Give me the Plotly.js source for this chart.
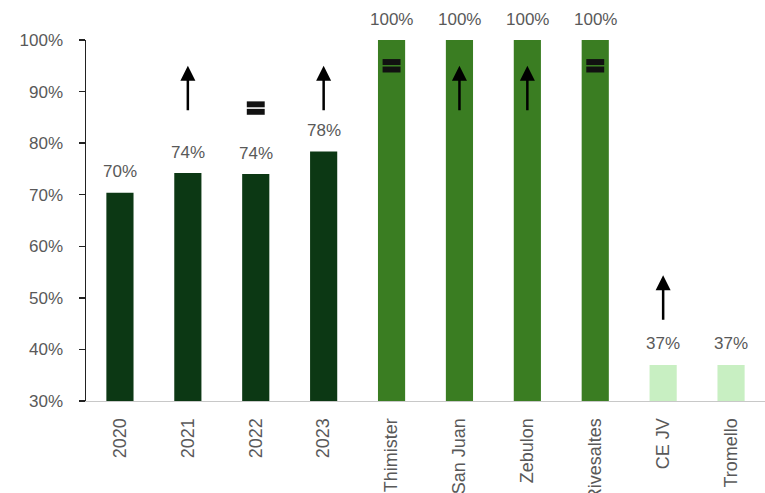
<!DOCTYPE html>
<html><head><meta charset="utf-8">
<script src="https://cdn.plot.ly/plotly-3.0.1.min.js"></script>
<style>html,body{margin:0;padding:0;background:#fff}#chart{width:765px;height:493px}</style>
</head><body><div id="chart"></div>
<script>
// Data
const categories = ['2020','2021','2022','2023','Thimister','San Juan','Zebulon','Rivesaltes','CE JV','Tromello'];
const values = [70.4, 74.2, 74.0, 78.4, 100, 100, 100, 100, 37, 37];
const groups = ['year','year','year','year','site','site','site','site','new','new'];
const trend = ['', 'up', 'equal', 'up', 'equal', 'up', 'up', 'equal', 'up', ''];

// Styles
const groupColors = {year:'#0c3814', site:'#3a7d22', new:'#c8efc2'};
const textColor = '#595959';
const font = 'Liberation Sans, Arial, sans-serif';

const annotations = [];
const shapes = [];
categories.forEach((c, i) => {
  const v = values[i];
  annotations.push({
    x: i, y: v, xref:'x', yref:'y', text: Math.round(v) + '%', showarrow:false,
    yanchor:'middle', yshift: 21, font:{family:font, size:17, color:textColor}
  });
  const base = v < 50 ? v + 17.4 : 95;
  if (trend[i] === 'up') {
    annotations.push({
      x: i, y: base, xref:'x', yref:'y', ax: 0, ay: 46, text:'', showarrow:true,
      arrowhead: 2, arrowsize: 1.2, arrowwidth: 2.5, arrowcolor:'#000'
    });
  } else if (trend[i] === 'equal') {
    const cy = v >= 95 ? 95 : 86.8;
    const hw = 0.132;
    shapes.push({type:'rect', xref:'x', yref:'y', x0:i-hw, x1:i+hw, y0:cy+0.15, y1:cy+1.3, fillcolor:'#111', line:{width:0}});
    shapes.push({type:'rect', xref:'x', yref:'y', x0:i-hw, x1:i+hw, y0:cy-1.3, y1:cy-0.15, fillcolor:'#111', line:{width:0}});
  }
});

const trace = {
  type:'bar', x: categories, y: values, width: 0.4,
  marker:{color: groups.map(g => groupColors[g]), line:{width:0}},
  hoverinfo:'x+y'
};

const layout = {
  width:765, height:493,
  margin:{l:86, r:0, t:40, b:92},
  paper_bgcolor:'#fff', plot_bgcolor:'#fff',
  showlegend:false,
  font:{family:font, color:textColor, size:17},
  xaxis:{
    type:'category', range:[-0.5, categories.length - 0.5], showgrid:false, zeroline:false,
    showline:true, linecolor:'#c8c8c8', linewidth:1,
    ticks:'', tickangle:-90, ticklabelstandoff: 9, tickfont:{family:font, size:18, color:textColor}
  },
  yaxis:{
    range:[30,100], dtick:10, ticksuffix:'%', showgrid:false, zeroline:false,
    showline:true, linecolor:'#222', linewidth:1.5,
    ticks:'outside', ticklen:6, tickcolor:'#222', tickwidth:1.5,
    ticklabelstandoff: 12,
    tickfont:{family:font, size:17, color:textColor}
  },
  annotations, shapes
};

Plotly.newPlot('chart', [trace], layout, {displayModeBar:false, staticPlot:true});
</script></body></html>
